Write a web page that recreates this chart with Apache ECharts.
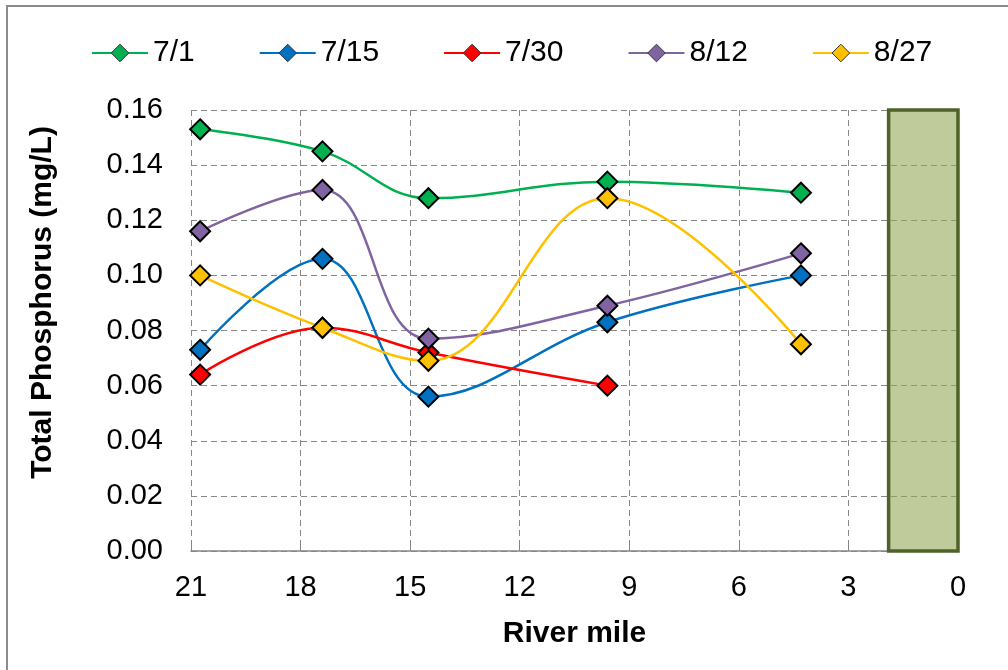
<!DOCTYPE html>
<html><head><meta charset="utf-8">
<script src="https://cdn.jsdelivr.net/npm/echarts@6/dist/echarts.min.js"></script>
<style>html,body{margin:0;padding:0;background:#fff}#c{width:1008px;height:670px}</style>
</head><body><div id="c"></div>
<script>
var riverMiles = [20.75, 17.4, 14.5, 9.6, 4.3];
var seriesNames = ['7/1', '7/15', '7/30', '8/12', '8/27'];
var s7_1  = [0.153, 0.145, 0.128, 0.134, 0.130];
var s7_15 = [0.073, 0.106, 0.056, 0.083, 0.100];
var s7_30 = [0.064, 0.081, 0.072, 0.060];
var s8_12 = [0.116, 0.131, 0.077, 0.089, 0.108];
var s8_27 = [0.100, 0.081, 0.069, 0.128, 0.075];
var shadedMiles = [0, 1.9];
var yRange = [0, 0.16];

var colors = ['#00B050', '#0070C0', '#FF0000', '#8064A2', '#FFC000'];
var values = [s7_1, s7_15, s7_30, s8_12, s8_27];
var font = 'Liberation Sans, Arial, sans-serif';

var series = values.map(function (v, i) {
  return {
    name: seriesNames[i], type: 'line', smooth: 0.4,
    data: v.map(function (y, j) { return [riverMiles[j], y]; }),
    symbol: 'diamond', symbolSize: 20,
    lineStyle: { color: colors[i], width: 2.5 },
    itemStyle: { color: colors[i], borderColor: '#000', borderWidth: 2 },
    z: 3 + i
  };
});
series.push({
  type: 'line', data: [], silent: true,
  markArea: {
    silent: true,
    itemStyle: { color: 'rgba(148,168,88,0.6)', borderColor: '#4F6228', borderWidth: 3.5 },
    data: [[{ xAxis: shadedMiles[1], yAxis: yRange[0] }, { xAxis: shadedMiles[0], yAxis: yRange[1] }]]
  }
});

var chart = echarts.init(document.getElementById('c'));
chart.setOption({
  animation: false,
  color: colors,
  graphic: [{ type: 'rect', shape: { x: 7, y: 6, width: 1100, height: 800 }, style: { fill: 'none', stroke: '#8c8c8c', lineWidth: 2 }, silent: true }],
  legend: {
    data: seriesNames, left: 86, top: 33, itemWidth: 56, itemHeight: 22, itemGap: 64,
    itemStyle: { borderColor: '#333', borderWidth: 1 },
    textStyle: { fontFamily: font, fontSize: 30, color: '#000' }
  },
  grid: { left: 191, right: 50, top: 110, bottom: 119 },
  xAxis: {
    type: 'value', inverse: true, min: 0, max: 21, interval: 3,
    name: 'River mile', nameLocation: 'middle', nameGap: 68,
    nameTextStyle: { fontFamily: font, fontSize: 30, fontWeight: 'bold', color: '#000' },
    axisLine: { show: true, lineStyle: { color: '#868686', width: 1.5 } },
    axisTick: { show: true, inside: true, length: 6, lineStyle: { color: '#868686' } },
    axisLabel: { fontFamily: font, fontSize: 29, color: '#000', margin: 22 },
    splitLine: { show: true, lineStyle: { color: '#868686', type: [6, 4], width: 1 } }
  },
  yAxis: {
    type: 'value', min: 0, max: 0.16, interval: 0.02,
    name: 'Total Phosphorus (mg/L)', nameLocation: 'middle', nameGap: 133,
    nameTextStyle: { fontFamily: font, fontSize: 30, fontWeight: 'bold', color: '#000', padding: [0, 0, 0, 56] },
    axisLine: { show: false },
    axisTick: { show: false },
    axisLabel: { fontFamily: font, fontSize: 29, color: '#000', margin: 28, formatter: function (v) { return v.toFixed(2); } },
    splitLine: { show: true, lineStyle: { color: '#868686', type: [6, 4], width: 1 } }
  },
  series: series
});
</script></body></html>
